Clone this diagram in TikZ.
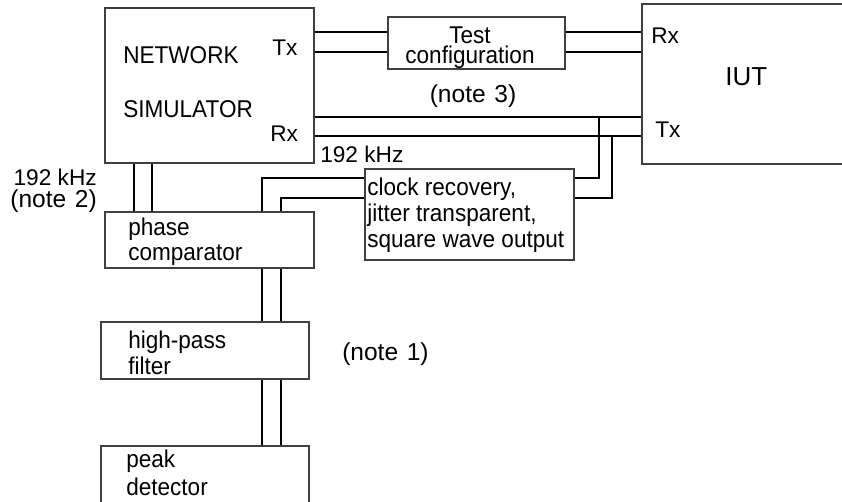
\documentclass[tikz,border=0pt]{standalone}
\usepackage{fontspec}
\setmainfont{Liberation Sans}
\newfontfamily\condfont[FakeStretch=0.93]{Liberation Sans}
\usetikzlibrary{fit}
\begin{document}
\begin{tikzpicture}[x=0.75pt,y=-0.75pt,
  box/.style={draw=black!75, line width=0.9pt, inner sep=0pt},
  wire/.style={line width=1.5pt, line join=miter},
  lbl/.style={inner sep=0pt, anchor=base west, font=\condfont\fontsize{18.2}{20}\selectfont},
  lblr/.style={lbl, anchor=base east},
  lblc/.style={lbl, anchor=base},
  portf/.style={font=\fontsize{17}{20}\selectfont},
  khzf/.style={font=\fontsize{17}{20}\selectfont},
  notef/.style={font=\fontsize{18.4}{20}\selectfont}]
\useasboundingbox (0,0) rectangle (842,501);
% boxes
\node[box, fit={(105,8) (314,163)}] (ns) {};
\node[box, fit={(388,17) (565,69)}] (tc) {};
\node[box, fit={(642,4) (850,164)}] (iut) {};
\node[box, fit={(105,212) (314,268)}] (pc) {};
\node[box, fit={(365,169) (574,260)}] (clk) {};
\node[box, fit={(101,322) (309,379)}] (hp) {};
\node[box, fit={(101,446) (309,510)}] (pd) {};
% helper coordinates
\coordinate (a1) at (0,32);
\coordinate (a2) at (0,52);
\coordinate (r1) at (0,117);
\coordinate (r2) at (0,136);
\coordinate (k1) at (599,178);
\coordinate (k2) at (612,198);
\coordinate (m1) at (262,178);
\coordinate (m2) at (281,198);
\coordinate (n1) at (134,0);
\coordinate (n2) at (152,0);
% wires
\draw[wire] (ns.east |- a1) -- (tc.west |- a1);
\draw[wire] (ns.east |- a2) -- (tc.west |- a2);
\draw[wire] (tc.east |- a1) -- (iut.west |- a1);
\draw[wire] (tc.east |- a2) -- (iut.west |- a2);
\draw[wire] (ns.east |- r1) -- (iut.west |- r1);
\draw[wire] (ns.east |- r2) -- (iut.west |- r2);
\draw[wire] (k1 |- r1) -- (k1) -- (clk.east |- k1);
\draw[wire] (k2 |- r2) -- (k2) -- (clk.east |- k2);
\draw[wire] (clk.west |- m1) -- (m1) -- (m1 |- pc.north);
\draw[wire] (clk.west |- m2) -- (m2) -- (m2 |- pc.north);
\draw[wire] (n1 |- ns.south) -- (n1 |- pc.north);
\draw[wire] (n2 |- ns.south) -- (n2 |- pc.north);
\draw[wire] (m1 |- pc.south) -- (m1 |- hp.north);
\draw[wire] (m2 |- pc.south) -- (m2 |- hp.north);
\draw[wire] (m1 |- hp.south) -- (m1 |- pd.north);
\draw[wire] (m2 |- hp.south) -- (m2 |- pd.north);
% labels
\node[lbl] (tnet) at (123,63) {NETWORK};
\node[lbl] (tsim) at (123,117) {SIMULATOR};
\node[lbl, portf] (ntx) at (272,55) {Tx};
\node[lbl, portf] (nrx) at (270,141) {Rx};
\node[lblc, align=center, font=\condfont\fontsize{18.2}{15}\selectfont] (ttest) at (470,63) {Test\\configuration};
\node[lbl, portf] (irx) at (651,43) {Rx};
\node[lbl, font=\fontsize{19.5}{20}\selectfont] (tiut) at (725,85) {IUT};
\node[lbl, portf] (itx) at (655,137) {Tx};
\node[lblc, notef] (note3) at (473,102) {(note\hspace{6.5pt}3)};
\node[lbl, khzf] (khz1) at (320,162) {192 kHz};
\node[lblr, khzf] (khz2) at (97,185) {192 kHz};
\node[lblr, notef] (note2) at (97,207) {(note\hspace{6.5pt}2)};
\node[lbl] (c1) at (367,195) {clock recovery,};
\node[lbl] (c2) at (367,221) {jitter transparent,};
\node[lbl] (c3) at (367,247) {square wave output};
\node[lbl] (p1) at (128,235) {phase};
\node[lbl] (p2) at (128,260) {comparator};
\node[lbl] (h1) at (128,348) {high-pass};
\node[lbl] (h2) at (128,374) {filter};
\node[lbl, notef] (note1) at (342,360) {(note\hspace{6.5pt}1)};
\node[lbl] (d1) at (126,467) {peak};
\node[lbl] (d2) at (126,495) {detector};
\end{tikzpicture}
\end{document}
